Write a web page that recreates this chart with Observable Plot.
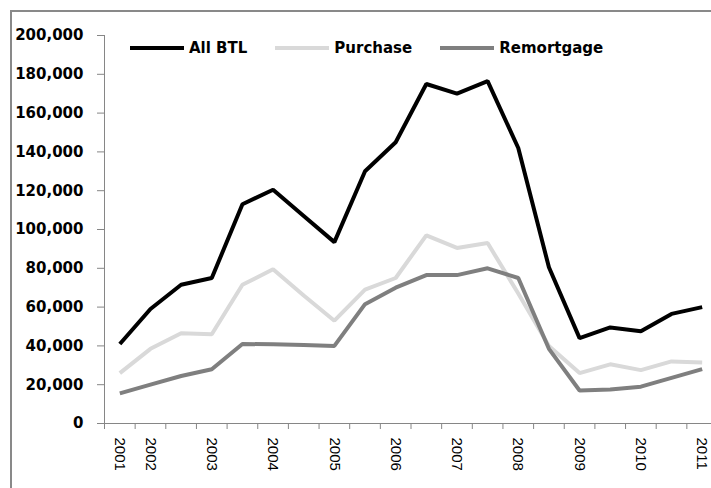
<!DOCTYPE html>
<html>
<head>
<meta charset="utf-8">
<script src="https://cdn.jsdelivr.net/npm/d3@7"></script>
<script src="https://cdn.jsdelivr.net/npm/@observablehq/plot@0.6"></script>
<style>
  body { margin: 0; background: #fff; }
  #wrap { position: relative; width: 711px; height: 488px; overflow: hidden; background: #fff; }
  #frame { position: absolute; left: 10px; top: 10px; width: 900px; height: 700px;
           border-left: 2px solid #898989; border-top: 2px solid #898989; pointer-events: none; }
  #chart { position: absolute; left: 0; top: 0; }
  #legend { position: absolute; left: 130px; top: 39px; display: flex; align-items: center;
            font: bold 15px "DejaVu Sans", sans-serif; color: #000; white-space: nowrap; }
  .item { display: flex; align-items: center; margin-right: 28px; }
  .sw { display: inline-block; width: 54px; height: 4px; margin-right: 5px; }
</style>
</head>
<body>
<div id="wrap">
  <div id="chart"></div>
  <div id="frame"></div>
  <div id="legend"></div>
</div>
<script>
// Category tick labels (half-yearly periods, labelled every other)
const tickLabels = ["2001","2002","","2003","","2004","","2005","","2006","","2007","","2008","","2009","","2010","","2011"];
const seriesNames = ["All BTL", "Purchase", "Remortgage"];
const seriesColors = ["#000000", "#d9d9d9", "#7f7f7f"];
const allBTL     = [41000, 59000, 71500, 75000, 113000, 120500, 107000, 93500, 130000, 145000, 175000, 170000, 176500, 142000, 80500, 44000, 49500, 47500, 56500, 60000];
const purchase   = [26000, 38500, 46500, 46000, 71500, 79500, 66000, 53000, 69000, 75000, 97000, 90500, 93000, 67000, 40000, 26000, 30500, 27500, 32000, 31500];
const remortgage = [15500, 20000, 24500, 28000, 41000, 40800, 40500, 40000, 61500, 70000, 76500, 76500, 80000, 75000, 38500, 17000, 17500, 19000, 23500, 28000];
const yTicks = [0, 20000, 40000, 60000, 80000, 100000, 120000, 140000, 160000, 180000, 200000];

const n = tickLabels.length;
const values = [allBTL, purchase, remortgage];
const rows = values.flatMap((arr, s) => arr.map((v, i) => ({i, value: v, series: seriesNames[s]})));
const boundaries = d3.range(n + 1).map(k => k - 0.5);
const labelled = d3.range(n).filter(i => tickLabels[i] !== "");

const chart = Plot.plot({
  width: 711,
  height: 488,
  marginLeft: 104,
  marginRight: -6,
  marginTop: 35,
  marginBottom: 65,
  style: { background: "transparent", overflow: "visible" },
  x: { type: "linear", domain: [-0.5, n - 0.5] },
  y: { domain: [0, 200000] },
  color: { domain: seriesNames, range: seriesColors },
  marks: [
    Plot.axisY({ ticks: yTicks, tickSize: 7, tickPadding: 14, tickFormat: d3.format(","),
                 stroke: "#868686", fill: "#000", fontSize: 15, fontWeight: "bold",
                 fontFamily: "DejaVu Sans", label: null }),
    Plot.axisX({ ticks: boundaries, tickSize: 6, tickFormat: () => "", stroke: "#868686", label: null }),
    Plot.axisX({ ticks: labelled, tickSize: 0, tickPadding: 14, tickRotate: 90,
                 tickFormat: i => tickLabels[i], fill: "#000", fontSize: 15,
                 fontFamily: "Liberation Sans", label: null }),
    Plot.ruleX([-0.5], { stroke: "#868686" }),
    Plot.ruleY([0], { stroke: "#868686" }),
    ...seriesNames.map(name =>
      Plot.line(rows.filter(d => d.series === name), {
        x: "i", y: "value", stroke: "series", strokeWidth: 4,
        strokeLinejoin: "miter", strokeLinecap: "butt"
      }))
  ]
});
document.getElementById("chart").appendChild(chart);

const legend = document.getElementById("legend");
seriesNames.forEach((name, s) => {
  const item = document.createElement("span");
  item.className = "item";
  const sw = document.createElement("span");
  sw.className = "sw";
  sw.style.background = seriesColors[s];
  item.appendChild(sw);
  item.appendChild(document.createTextNode(name));
  legend.appendChild(item);
});
</script>
</body>
</html>
